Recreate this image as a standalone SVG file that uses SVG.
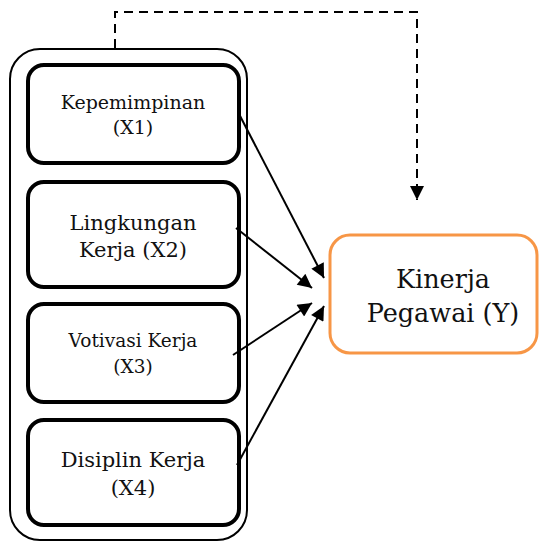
<svg xmlns="http://www.w3.org/2000/svg" width="539" height="543" viewBox="0 0 539 543">
<defs>
<style>
.inner{fill:#fff;stroke:#000;stroke-width:4}
.outer{fill:#fff;stroke:#000;stroke-width:2}
.t{font-family:"DejaVu Serif","Liberation Serif",serif;fill:#111;text-anchor:middle}
.c{stroke:#000;stroke-width:2;fill:none}
</style>
<marker id="ah" viewBox="0 0 10 10" refX="10" refY="5" markerWidth="16" markerHeight="14" markerUnits="userSpaceOnUse" orient="auto">
<path d="M0,0 L10,5 L0,10 Z" fill="#000"/>
</marker>
</defs>
<g id="group-x">
<rect class="outer" x="10" y="49" width="237" height="491" rx="30"/>
</g>
<g id="x1">
<rect class="inner" x="28" y="65" width="211" height="98" rx="16"/>
<text class="t" x="133" y="109" font-size="19">Kepemimpinan</text>
<text class="t" x="133" y="134" font-size="19">(X1)</text>
</g>
<g id="x2">
<rect class="inner" x="28" y="182" width="211" height="105" rx="16"/>
<text class="t" x="133" y="230" font-size="21">Lingkungan</text>
<text class="t" x="133" y="257" font-size="21">Kerja (X2)</text>
</g>
<g id="x3">
<rect class="inner" x="28" y="304" width="211" height="98" rx="16"/>
<text class="t" x="133" y="347" font-size="18.5">Votivasi Kerja</text>
<text class="t" x="133" y="373" font-size="18.5">(X3)</text>
</g>
<g id="x4">
<rect class="inner" x="28" y="420" width="211" height="105" rx="16"/>
<text class="t" x="133" y="467" font-size="21">Disiplin Kerja</text>
<text class="t" x="133" y="495" font-size="21">(X4)</text>
</g>
<g id="y">
<rect x="330" y="235" width="207" height="118" rx="20" fill="#fff" stroke="#F79646" stroke-width="3"/>
<text class="t" x="443" y="288" font-size="25.5">Kinerja</text>
<text class="t" x="443" y="322" font-size="25.5">Pegawai (Y)</text>
</g>
<g id="connectors">
<path class="c" d="M115,48 V12 H417 V200" stroke-dasharray="9,6" marker-end="url(#ah)"/>
<line class="c" x1="238" y1="112" x2="324" y2="278" marker-end="url(#ah)"/>
<line class="c" x1="236" y1="228" x2="312" y2="288" marker-end="url(#ah)"/>
<line class="c" x1="233" y1="355" x2="312" y2="303" marker-end="url(#ah)"/>
<line class="c" x1="237" y1="465" x2="324" y2="306" marker-end="url(#ah)"/>
</g>
</svg>
